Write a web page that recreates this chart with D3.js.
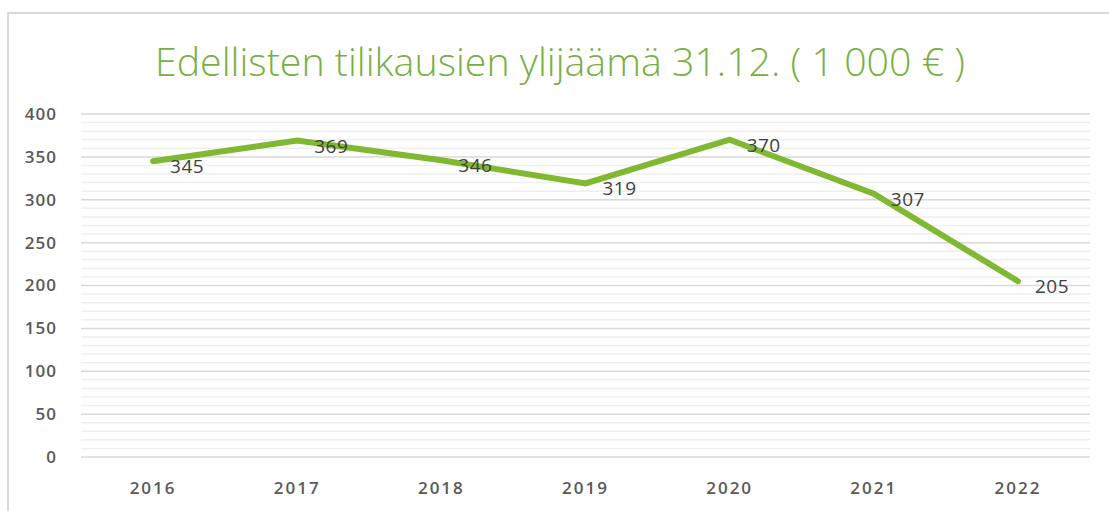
<!DOCTYPE html>
<html><head><meta charset="utf-8">
<script src="https://cdn.jsdelivr.net/npm/d3@7"></script>
<style>body{margin:0;background:#fff}</style></head>
<body><svg id="c" width="1109" height="511"></svg>
<script>
const years = ["2016","2017","2018","2019","2020","2021","2022"];
const values = [345,369,346,319,370,307,205];
const yTicks = [0,50,100,150,200,250,300,350,400];
const title = "Edellisten tilikausien ylijäämä 31.12. ( 1 000 € )";

const svg = d3.select("#c");
// frame
svg.append("path").attr("d","M8,511 V13 H1109").attr("fill","none").attr("stroke","#d9d9d9").attr("stroke-width",2);

const x = d3.scaleBand().domain(years).range([81,1090]);
const y = d3.scaleLinear().domain([0,400]).range([457,114]);

// minor grid
const minor = d3.range(0,401,10).filter(v=>v%50!==0);
svg.append("g").selectAll("line").data(minor).join("line")
  .attr("x1",81).attr("x2",1090).attr("y1",d=>y(d)).attr("y2",d=>y(d))
  .attr("stroke","#efefef").attr("stroke-width",1.5);
// major grid
svg.append("g").selectAll("line").data(yTicks).join("line")
  .attr("x1",81).attr("x2",1090).attr("y1",d=>y(d)).attr("y2",d=>y(d))
  .attr("stroke","#d9d9d9").attr("stroke-width",1.5);

// y axis labels
const ya = svg.append("g").attr("transform","translate(57,0)")
  .call(d3.axisLeft(y).tickValues(yTicks).tickSize(0).tickPadding(0));
ya.select(".domain").remove();
ya.selectAll("text").attr("font-family","Open Sans").attr("font-size",17).attr("font-weight",600)
  .attr("letter-spacing",1).attr("fill","#595959");

// x axis labels
const xa = svg.append("g").attr("transform","translate(0,482)")
  .call(d3.axisBottom(x).tickSize(0).tickPadding(0));
xa.select(".domain").remove();
xa.selectAll("text").attr("font-family","Open Sans").attr("font-size",17).attr("font-weight",600)
  .attr("letter-spacing",2).attr("fill","#595959");

// line
const line = d3.line().x((d,i)=>x(years[i])+x.bandwidth()/2).y(d=>y(d));
svg.append("path").datum(values).attr("d",line).attr("fill","none")
  .attr("stroke","#80b832").attr("stroke-width",6).attr("stroke-linecap","round").attr("stroke-linejoin","miter");

// data labels
svg.append("g").selectAll("text").data(values).join("text")
  .attr("x",(d,i)=>x(years[i])+x.bandwidth()/2+17)
  .attr("y",d=>y(d)+12)
  .attr("font-family","Open Sans").attr("font-size",19).attr("letter-spacing",0.5).attr("fill","#404040")
  .text(d=>d);

// title
svg.append("text").attr("x",155).attr("y",76)
  .attr("font-family","Open Sans").attr("font-size",38).attr("font-weight",300).attr("fill","#77b042")
  .attr("textLength",810).attr("lengthAdjust","spacingAndGlyphs")
  .text(title);
</script></body></html>
